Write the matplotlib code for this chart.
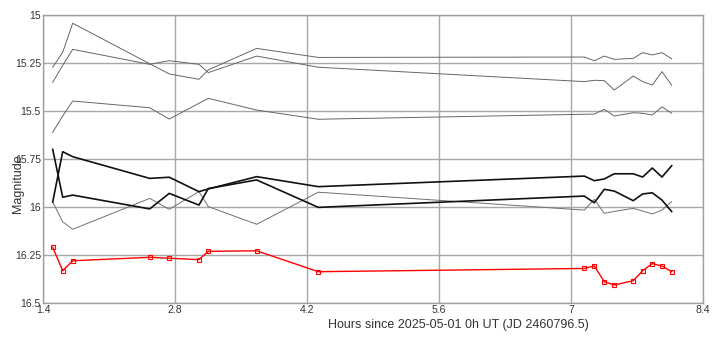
import numpy as np
import matplotlib
matplotlib.use('Agg')
from matplotlib import pyplot as plt

plt.rcParams['font.family'] = ['Liberation Sans', 'DejaVu Sans']

# hours since 2025-05-01 0h UT
hours = [1.503, 1.609, 1.715, 2.532, 2.739, 3.054, 3.153, 3.666, 4.320,
         7.141, 7.247, 7.353, 7.459, 7.660, 7.760, 7.862, 7.965, 8.068]

# comparison stars (thin gray, upper group)
comp_a = [15.272, 15.194, 15.043, 15.254, 15.307, 15.335, 15.286, 15.174, 15.221,
          15.219, 15.238, 15.214, 15.231, 15.226, 15.196, 15.208, 15.196, 15.228]
comp_b = [15.351, 15.262, 15.179, 15.257, 15.238, 15.257, 15.300, 15.214, 15.272,
          15.347, 15.340, 15.342, 15.391, 15.318, 15.347, 15.365, 15.295, 15.366]
comp_c = [15.611, 15.526, 15.448, 15.483, 15.542, 15.460, 15.434, 15.495, 15.543,
          15.517, 15.516, 15.491, 15.526, 15.509, 15.512, 15.521, 15.478, 15.512]

# lower group: two black, one gray
comp_d = [15.700, 15.949, 15.938, 16.010, 15.929, 15.990, 15.904, 15.859, 16.002,
          15.943, 15.978, 15.908, 15.917, 15.967, 15.932, 15.926, 15.964, 16.024]
comp_e = [15.974, 15.712, 15.738, 15.851, 15.845, 15.920, 15.906, 15.842, 15.894,
          15.839, 15.863, 15.854, 15.827, 15.827, 15.844, 15.797, 15.844, 15.785]
comp_g = [15.974, 16.077, 16.116, 15.955, 16.012, 15.920, 15.998, 16.090, 15.923,
          16.016, 15.960, 16.033, 16.023, 16.007, 16.021, 16.036, 16.016, 15.972]

# target (red)
target = [16.210, 16.332, 16.280, 16.262, 16.267, 16.274, 16.231, 16.228, 16.337,
          16.320, 16.307, 16.389, 16.406, 16.384, 16.332, 16.295, 16.307, 16.337]

xticks = [1.4, 2.8, 4.2, 5.6, 7, 8.4]
xticklabels = ['1.4', '2.8', '4.2', '5.6', '7', '8.4']
yticks = [15, 15.25, 15.5, 15.75, 16, 16.25, 16.5]
yticklabels = ['15', '15.25', '15.5', '15.75', '16', '16.25', '16.5']

fig = plt.figure(figsize=(7.18, 3.51), dpi=100)
ax = fig.add_axes([43/718, 48/351, 660/718, 288/351])

for s in [comp_a, comp_b, comp_c]:
    ax.plot(hours, s, color='#666666', lw=0.7, zorder=3)
ax.plot(hours, comp_g, color='#707070', lw=0.7, zorder=3)
ax.plot(hours, comp_d, color='#111111', lw=1.2, zorder=3)
ax.plot(hours, comp_e, color='#111111', lw=1.2, zorder=3)
ax.plot(hours, target, color='#ff0000', lw=1.0, marker='s', ms=3.5,
        mfc='none', mec='#ff0000', mew=0.8, zorder=4)

ax.set_xlim(1.4, 8.4)
ax.set_ylim(16.5, 15)
ax.set_xticks(xticks)
ax.set_xticklabels(xticklabels)
ax.set_yticks(yticks)
ax.set_yticklabels(yticklabels)
ax.tick_params(length=0, labelsize=7.5, labelcolor='#333333', pad=1.5)
ax.grid(True, color='#a8a8a8', lw=1, zorder=0)
for sp in ax.spines.values():
    sp.set_color('#a0a0a0')
    sp.set_linewidth(1)

fig.text(458/718, 1 - 325/351, 'Hours since 2025-05-01 0h UT (JD 2460796.5)',
         ha='center', va='center', fontsize=9, color='#333333')
fig.text(18/718, 1 - 184/351, 'Magnitude', rotation=90,
         ha='center', va='center', fontsize=9, color='#333333')

fig.savefig('out.png', dpi=100)
